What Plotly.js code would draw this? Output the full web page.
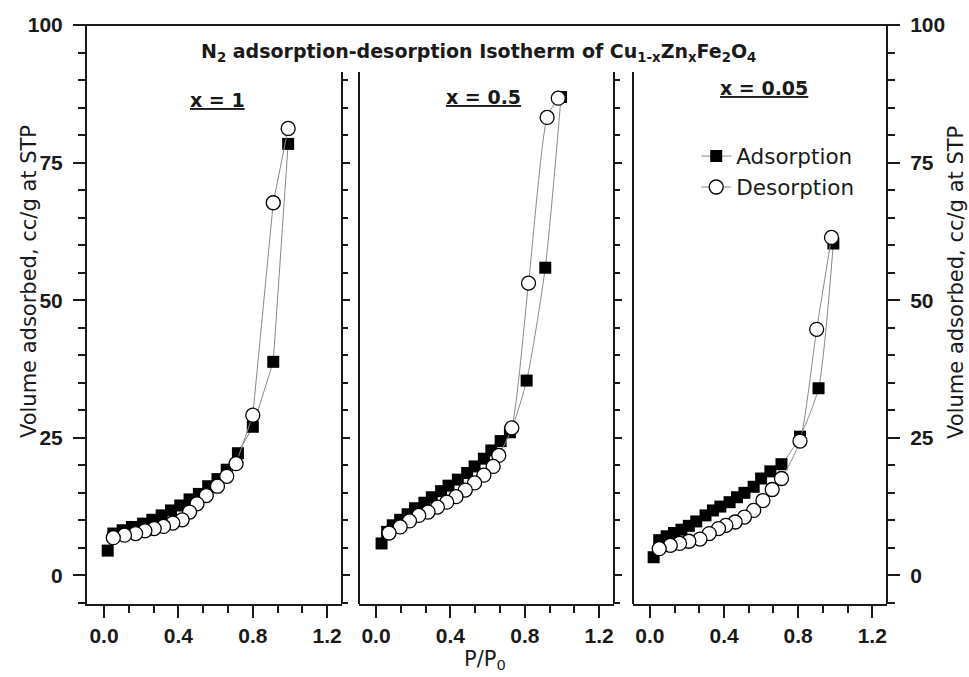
<!DOCTYPE html>
<html>
<head>
<meta charset="utf-8">
<script src="https://cdn.plot.ly/plotly-3.0.1.min.js"></script>
<style>html,body{margin:0;padding:0;background:#fff;}</style>
</head>
<body>
<div id="chart" style="width:969px;height:677px;"></div>
<script>
// ---- data ----
const panelLabels = ["x = 1", "x = 0.5", "x = 0.05"];
const seriesNames = ["Adsorption", "Desorption"];

// panel 1 : x = 1
const p1AdsP = [0.02, 0.05, 0.10, 0.15, 0.21, 0.26, 0.31, 0.36, 0.41, 0.46, 0.51, 0.56, 0.61, 0.66, 0.72, 0.80, 0.91, 0.99];
const p1AdsV = [4.5, 7.6, 8.2, 8.8, 9.4, 10.1, 10.9, 11.8, 12.7, 13.8, 14.8, 16.2, 17.5, 19.2, 22.2, 27.0, 38.8, 78.4];
const p1DesP = [0.99, 0.91, 0.80, 0.71, 0.66, 0.61, 0.55, 0.50, 0.46, 0.42, 0.37, 0.32, 0.27, 0.22, 0.17, 0.11, 0.05];
const p1DesV = [81.2, 67.7, 29.1, 20.3, 18.0, 16.2, 14.5, 13.0, 11.5, 10.1, 9.5, 8.9, 8.5, 8.1, 7.6, 7.3, 6.85];

// panel 2 : x = 0.5
const p2AdsP = [0.03, 0.06, 0.09, 0.13, 0.17, 0.21, 0.26, 0.30, 0.35, 0.39, 0.44, 0.49, 0.53, 0.58, 0.62, 0.67, 0.72, 0.81, 0.91, 0.995];
const p2AdsV = [5.8, 7.9, 9.1, 10.1, 11.1, 12.2, 13.2, 14.2, 15.3, 16.3, 17.4, 18.6, 19.8, 21.2, 22.7, 24.4, 26.0, 35.4, 55.9, 86.9];
const p2DesP = [0.98, 0.92, 0.82, 0.73, 0.66, 0.63, 0.58, 0.53, 0.48, 0.43, 0.38, 0.33, 0.28, 0.23, 0.18, 0.13, 0.07];
const p2DesV = [86.7, 83.2, 53.1, 26.8, 21.8, 19.8, 18.2, 16.8, 15.5, 14.3, 13.3, 12.4, 11.5, 10.9, 9.9, 8.8, 7.7];

// panel 3 : x = 0.05
const p3AdsP = [0.02, 0.05, 0.09, 0.13, 0.17, 0.21, 0.25, 0.30, 0.34, 0.38, 0.43, 0.47, 0.51, 0.56, 0.60, 0.65, 0.71, 0.81, 0.91, 0.99];
const p3AdsV = [3.3, 6.4, 7.1, 7.7, 8.3, 9.0, 9.8, 10.9, 11.8, 12.5, 13.3, 14.2, 15.0, 16.1, 17.6, 18.9, 20.2, 25.2, 34.0, 60.3];
const p3DesP = [0.98, 0.90, 0.81, 0.71, 0.66, 0.61, 0.56, 0.51, 0.46, 0.41, 0.37, 0.32, 0.27, 0.21, 0.16, 0.11, 0.05];
const p3DesV = [61.4, 44.7, 24.4, 17.6, 15.6, 13.6, 11.8, 10.6, 9.7, 9.1, 8.5, 7.6, 6.6, 6.2, 5.8, 5.45, 4.85];

const xTickVals = [0, 0.4, 0.8, 1.2];
const yTickVals = [0, 25, 50, 75, 100];

// ---- styling ----
const INK = "#1a1a1a";
const LINEC = "#8a8a8a";
const wideFont = "DejaVu Sans, Verdana, sans-serif";
const tickFont = "Liberation Sans, Arial, sans-serif";

const Y0 = -5.2, Y1 = 100;
const innerTop = 0.9188;
const innerRange = [Y0, Y0 + innerTop * (Y1 - Y0)];
const XR = [-0.0914, 1.2796];

const xDomains = [[0, 0.31875], [0.34, 0.65875], [0.6825, 1]];
const xKeys = ["x", "x2", "x3"];

const data = [];
const panels = [
  [p1AdsP, p1AdsV, p1DesP, p1DesV, "linear"],
  [p2AdsP, p2AdsV, p2DesP, p2DesV, "spline"],
  [p3AdsP, p3AdsV, p3DesP, p3DesV, "spline"]
];
panels.forEach((pn, i) => {
  data.push({
    type: "scatter", mode: "lines+markers", name: seriesNames[0],
    x: pn[0], y: pn[1], xaxis: xKeys[i], yaxis: "y",
    showlegend: i === 0, legendrank: 1,
    line: {color: LINEC, width: 1, shape: pn[4], smoothing: 0.6},
    marker: {symbol: "square", size: 12, color: "#000", line: {width: 0}},
    hoverinfo: "skip"
  });
  data.push({
    type: "scatter", mode: "lines+markers", name: seriesNames[1],
    x: pn[2], y: pn[3], xaxis: xKeys[i], yaxis: "y",
    showlegend: i === 0, legendrank: 2,
    line: {color: LINEC, width: 1, shape: pn[4], smoothing: 0.6},
    marker: {symbol: "circle", size: 14, color: "#fff", line: {width: 1.3, color: "#000"}},
    hoverinfo: "skip"
  });
});
// empty traces so the frame axes get their subplots
[["x", "y2"], ["x2", "y3"], ["x2", "y4"], ["x3", "y5"], ["x3", "y6"]].forEach(p => {
  data.push({type: "scatter", mode: "markers", x: [], y: [], xaxis: p[0], yaxis: p[1], showlegend: false, hoverinfo: "skip"});
});

function xAxis(i) {
  return {
    domain: xDomains[i], range: XR, anchor: "y",
    showline: true, linecolor: INK, linewidth: 2,
    ticks: "outside", ticklen: 12, tickwidth: 2, tickcolor: INK,
    tickmode: "array", tickvals: xTickVals, tickformat: ".1f",
    minor: {dtick: 0.4 / 3, tick0: 0, ticks: "outside", ticklen: 7, tickwidth: 2, tickcolor: INK, showgrid: false},
    ticklabelstandoff: 0,
    tickfont: {family: tickFont, size: 21, color: INK, weight: "bold"},
    showgrid: false, zeroline: false, fixedrange: true
  };
}
function innerAxis(pos, side, withTicks) {
  const a = {
    domain: [0, innerTop], range: innerRange, anchor: "free", position: pos, side: side,
    showline: true, linecolor: INK, linewidth: 2,
    showticklabels: false, showgrid: false, zeroline: false, fixedrange: true
  };
  if (withTicks) {
    a.ticks = "outside"; a.ticklen = 7; a.tickwidth = 2; a.tickcolor = INK;
    a.tick0 = 0; a.dtick = 25;
    a.minor = {dtick: 5, tick0: 0, ticks: "outside", ticklen: 5, tickwidth: 2, tickcolor: INK, showgrid: false};
  } else {
    a.ticks = "";
  }
  return a;
}
const outerY = {
  range: [Y0, Y1], domain: [0, 1],
  showline: true, linecolor: INK, linewidth: 2,
  ticks: "outside", ticklen: 12, tickwidth: 2, tickcolor: INK,
  tickmode: "array", tickvals: yTickVals,
  minor: {dtick: 5, tick0: 0, ticks: "outside", ticklen: 7, tickwidth: 2, tickcolor: INK, showgrid: false},
  ticklabelstandoff: 6,
  tickfont: {family: tickFont, size: 21, color: INK, weight: "bold"},
  showgrid: false, zeroline: false, fixedrange: true
};

const yTitle = "Volume adsorbed, cc/g at STP";
const layout = {
  width: 969, height: 677,
  margin: {l: 87, r: 82, t: 25, b: 73, pad: 0},
  paper_bgcolor: "#fff", plot_bgcolor: "rgba(0,0,0,0)",
  showlegend: true,
  legend: {
    x: 0.7615, y: 0.809, xanchor: "left", yanchor: "top",
    bgcolor: "rgba(0,0,0,0)", borderwidth: 0,
    font: {family: wideFont, size: 21.5, color: INK},
    itemwidth: 30, tracegroupgap: 0
  },
  xaxis: xAxis(0), xaxis2: xAxis(1), xaxis3: xAxis(2),
  yaxis: Object.assign({anchor: "x", side: "left"}, outerY),
  yaxis2: innerAxis(0.31875, "right", true),
  yaxis3: innerAxis(0.34, "left", false),
  yaxis4: innerAxis(0.65875, "right", true),
  yaxis5: innerAxis(0.6825, "left", false),
  yaxis6: Object.assign({anchor: "free", position: 1, side: "right"}, outerY),
  shapes: [
    {type: "line", xref: "paper", yref: "paper", x0: -0.015, x1: 1.015, y0: 1, y1: 1,
     line: {color: INK, width: 2}}
  ],
  annotations: [
    {xref: "paper", yref: "paper", x: 0.489, y: 0.953, xanchor: "center", yanchor: "middle", showarrow: false,
     text: "<b>N<sub>2</sub> adsorption-desorption Isotherm of Cu<sub>1-x</sub>Zn<sub>x</sub>Fe<sub>2</sub>O<sub>4</sub></b>",
     font: {family: wideFont, size: 19, color: INK}},
    {xref: "paper", yref: "paper", x: 0.1625, y: 0.870, xanchor: "center", yanchor: "middle", showarrow: false,
     text: '<b><span style="text-decoration:underline">' + panelLabels[0] + '</span></b>',
     font: {family: wideFont, size: 19, color: INK}},
    {xref: "paper", yref: "paper", x: 0.496, y: 0.876, xanchor: "center", yanchor: "middle", showarrow: false,
     text: '<b><span style="text-decoration:underline">' + panelLabels[1] + '</span></b>',
     font: {family: wideFont, size: 19, color: INK}},
    {xref: "paper", yref: "paper", x: 0.846, y: 0.891, xanchor: "center", yanchor: "middle", showarrow: false,
     text: '<b><span style="text-decoration:underline">' + panelLabels[2] + '</span></b>',
     font: {family: wideFont, size: 19, color: INK}},
    {xref: "paper", yref: "paper", x: -0.0725, y: 0.556, xanchor: "center", yanchor: "middle", showarrow: false,
     textangle: -90, text: yTitle, font: {family: wideFont, size: 21, color: INK}},
    {xref: "paper", yref: "paper", x: 1.086, y: 0.556, xanchor: "center", yanchor: "middle", showarrow: false,
     textangle: -90, text: yTitle, font: {family: wideFont, size: 21, color: INK}},
    {xref: "paper", yref: "paper", x: 0.4975, y: -0.0967, xanchor: "center", yanchor: "middle", showarrow: false,
     text: "P/P<sub>0</sub>", font: {family: wideFont, size: 21, color: INK}}
  ]
};

Plotly.newPlot("chart", data, layout, {displayModeBar: false, staticPlot: true});
</script>
</body>
</html>
